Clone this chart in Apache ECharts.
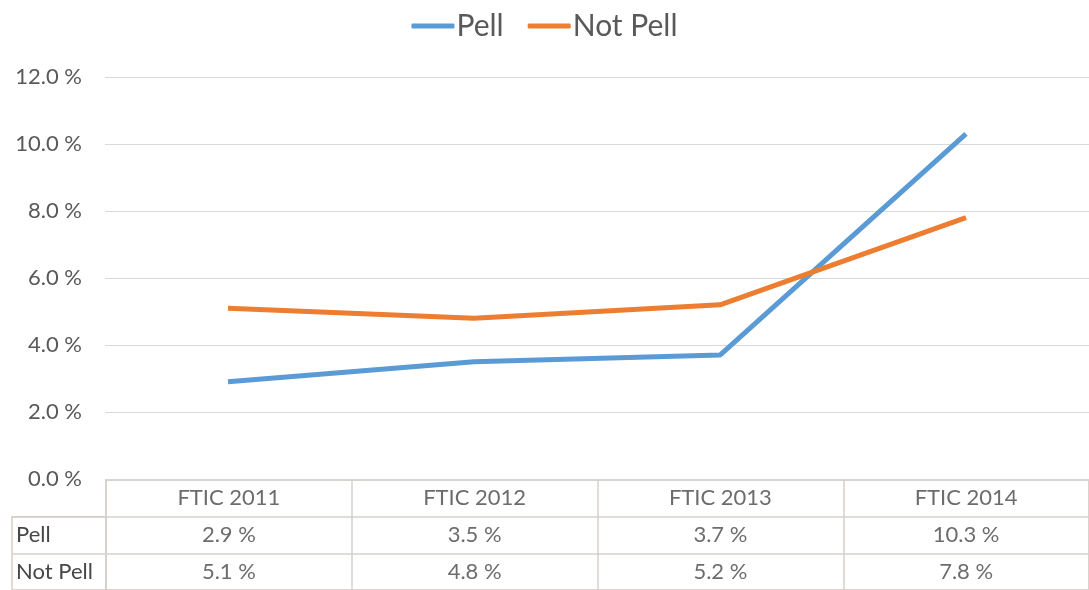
<!DOCTYPE html>
<html>
<head>
<meta charset="utf-8">
<script src="https://cdn.jsdelivr.net/npm/echarts@6/dist/echarts.min.js"></script>
<style>
  html, body { margin: 0; padding: 0; background: #fff; }
  #chart { width: 1089px; height: 590px; }
</style>
</head>
<body>
<div id="chart"></div>
<script>
var categories = ['FTIC 2011', 'FTIC 2012', 'FTIC 2013', 'FTIC 2014'];
var pell = [2.9, 3.5, 3.7, 10.3];
var notPell = [5.1, 4.8, 5.2, 7.8];
var seriesNames = ['Pell', 'Not Pell'];
var tableRows = ['header', 'Pell', 'Not Pell'];

var font = 'Lato, "Open Sans", sans-serif';
var textColor = '#595959';
var lineColor = '#d9d9d9';
var tableLine = '#d6d0cc';

function pct(v) { return v.toFixed(1) + ' %'; }

function cells(row, vals) {
    return categories.map(function (c, i) {
        return [c, row, vals ? vals[i] : c];
    });
}

var cellLabel = {
    show: true,
    position: 'inside',
    color: '#474747',
    fontFamily: font,
    fontSize: 22
};

var myChart = echarts.init(document.getElementById('chart'));
var option = {
    backgroundColor: '#fff',
    animation: false,
    legend: {
        top: 6,
        left: 'center',
        data: seriesNames,
        icon: 'roundRect',
        itemWidth: 43,
        itemHeight: 5,
        itemGap: 24,
        textStyle: { color: textColor, fontFamily: font, fontSize: 30, padding: [0, 0, 0, -3] }
    },
    grid: [
        { left: 105, right: -4, top: 77, bottom: 111 },
        { left: 106, right: 0, top: 480, bottom: 0, show: true, borderColor: tableLine, borderWidth: 1.5 },
        { left: 12, width: 94, top: 480 + 110 / 3, bottom: 0, show: true, borderColor: tableLine, borderWidth: 1.5 }
    ],
    xAxis: [
        { gridIndex: 0, type: 'category', data: categories, axisLine: { show: false }, axisTick: { show: false }, axisLabel: { show: false } },
        { gridIndex: 1, type: 'category', data: categories, axisLine: { show: false }, axisTick: { show: false }, axisLabel: { show: false },
          splitLine: { show: true, lineStyle: { color: tableLine, width: 1.5 } } },
        { gridIndex: 2, type: 'value', show: false }
    ],
    yAxis: [
        { gridIndex: 0, type: 'value', min: 0, max: 12, interval: 2,
          axisLine: { show: false }, axisTick: { show: false },
          axisLabel: { formatter: pct, color: textColor, fontFamily: font, fontSize: 22, margin: 23 },
          splitLine: { lineStyle: { color: lineColor, width: 1 } } },
        { gridIndex: 1, type: 'category', data: tableRows, inverse: true,
          axisLine: { show: false }, axisTick: { show: false }, axisLabel: { show: false },
          splitLine: { show: true, lineStyle: { color: tableLine, width: 1.5 } } },
        { gridIndex: 2, type: 'category', data: seriesNames, inverse: true,
          axisLine: { show: false }, axisTick: { show: false },
          axisLabel: { inside: true, margin: 4, color: '#474747', fontFamily: font, fontSize: 22 },
          splitLine: { show: true, lineStyle: { color: tableLine, width: 1.5 } } }
    ],
    series: [
        { name: 'Pell', type: 'line', data: pell, symbol: 'none',
          lineStyle: { color: '#5b9bd5', width: 5 }, itemStyle: { color: '#5b9bd5' } },
        { name: 'Not Pell', type: 'line', data: notPell, symbol: 'none',
          lineStyle: { color: '#ed7d31', width: 5 }, itemStyle: { color: '#ed7d31' } },
        { type: 'scatter', xAxisIndex: 1, yAxisIndex: 1, symbolSize: 0, silent: true,
          data: cells('header'), label: Object.assign({ formatter: function (p) { return p.value[2]; } }, cellLabel) },
        { type: 'scatter', xAxisIndex: 1, yAxisIndex: 1, symbolSize: 0, silent: true,
          data: cells('Pell', pell), label: Object.assign({ formatter: function (p) { return pct(p.value[2]); } }, cellLabel) },
        { type: 'scatter', xAxisIndex: 1, yAxisIndex: 1, symbolSize: 0, silent: true,
          data: cells('Not Pell', notPell), label: Object.assign({ formatter: function (p) { return pct(p.value[2]); } }, cellLabel) }
    ]
};
myChart.setOption(option);
</script>
</body>
</html>
